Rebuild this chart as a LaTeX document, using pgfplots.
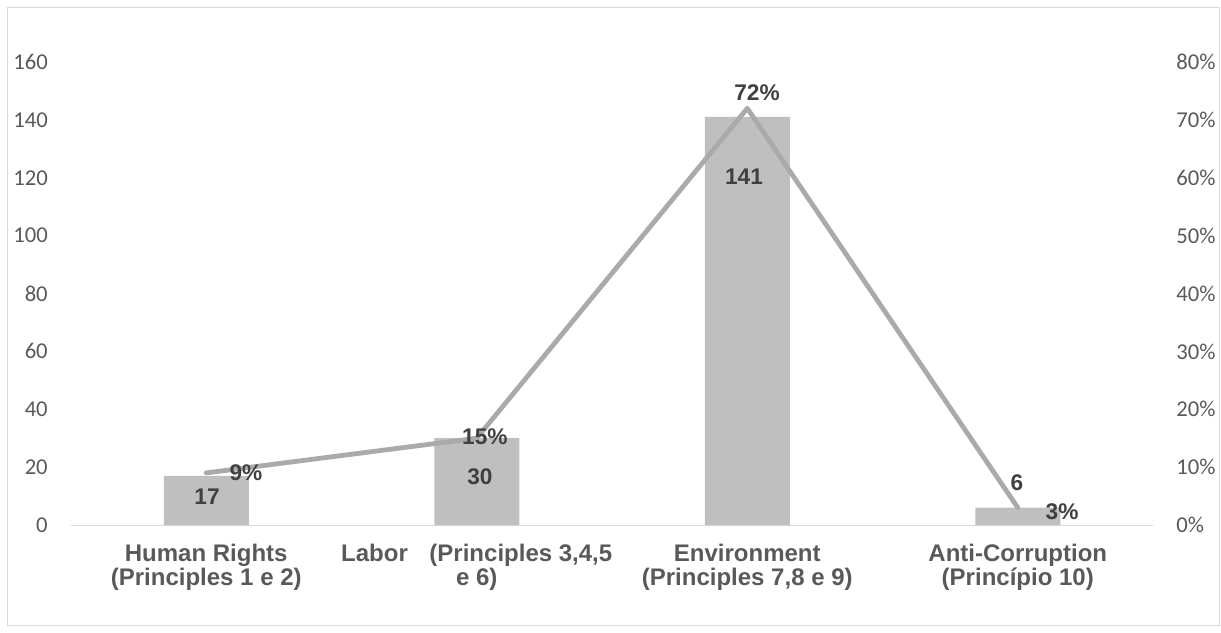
\documentclass[border=0pt]{standalone}
\usepackage{pgfplots}
\pgfplotsset{compat=1.18}
\usepackage{fontspec}
\setmainfont{Carlito}
\newfontfamily\arialfont{Liberation Sans}
\definecolor{barc}{RGB}{191,191,191}
\definecolor{linec}{RGB}{170,170,170}
\definecolor{tickc}{RGB}{89,89,89}
\definecolor{labc}{RGB}{64,64,64}
\definecolor{framec}{RGB}{217,217,217}
\begin{document}
\begin{tikzpicture}
\useasboundingbox (0,0) rectangle (915.75pt,474pt);
\draw[framec, line width=0.75pt] (5.25pt,5.25pt) rectangle (914.25pt,468pt);
\pgfplotsset{
  common/.style={
    at={(53.25pt,80.25pt)}, anchor=south west,
    scale only axis, width=811.5pt, height=347.25pt,
    xmin=-0.5, xmax=3.5,
    clip=false,
    major tick length=0pt,
    tick label style={font=\fontsize{17}{17}\selectfont, text=tickc},
  }
}
\begin{axis}[common,
  ymin=0, ymax=160,
  axis x line*=bottom, axis y line*=left,
  y axis line style={draw=none},
  x axis line style={draw=framec, line width=0.75pt},
  ytick={0,20,40,60,80,100,120,140,160},
  yticklabels={0,20,40,60,80,100,120,140,160},
  yticklabel style={anchor=east, inner sep=0pt, xshift=-17.25pt},
  xtick={0,1,2,3},
  xticklabels={{Human Rights\\(Principles 1 e 2)},{Labor\hspace{0.9em}(Principles 3,4,5\\e 6)},{Environment\\(Principles 7,8 e 9)},{Anti-Corruption\\(Princípio 10)}},
  xticklabel style={align=center, anchor=north, inner sep=0pt, yshift=-14.3pt, font=\arialfont\bfseries\fontsize{18}{18}\selectfont, text=tickc},
]
\addplot[ybar, bar width=63.75pt, fill=barc, draw=none] coordinates {(0,17) (1,30) (2,141) (3,6)};
\end{axis}
\begin{axis}[common,
  ymin=0, ymax=0.8,
  axis x line=none, axis y line*=right,
  y axis line style={draw=none},
  xtick=\empty,
  ytick={0,0.1,0.2,0.3,0.4,0.5,0.6,0.7,0.8},
  yticklabels={0\%,10\%,20\%,30\%,40\%,50\%,60\%,70\%,80\%},
  yticklabel style={anchor=west, inner sep=0pt, xshift=17.25pt},
]
\addplot[linec, line width=3.6pt, line cap=round, line join=round] coordinates {(0,0.09) (1,0.15) (2,0.72) (3,0.03)};
\begin{scope}[every node/.style={font=\arialfont\bfseries\fontsize{17}{17}\selectfont, text=labc, inner sep=0pt}]
\node at (axis cs:0.003,0.0484) {17};
\node at (axis cs:1.012,0.083) {30};
\node at (axis cs:1.988,0.6015) {141};
\node at (axis cs:2.997,0.0725) {6};
\node at (axis cs:0.147,0.090) {9\%};
\node at (axis cs:1.030,0.152) {15\%};
\node at (axis cs:2.036,0.7465) {72\%};
\node at (axis cs:3.164,0.0225) {3\%};
\end{scope}
\end{axis}
\end{tikzpicture}
\end{document}
